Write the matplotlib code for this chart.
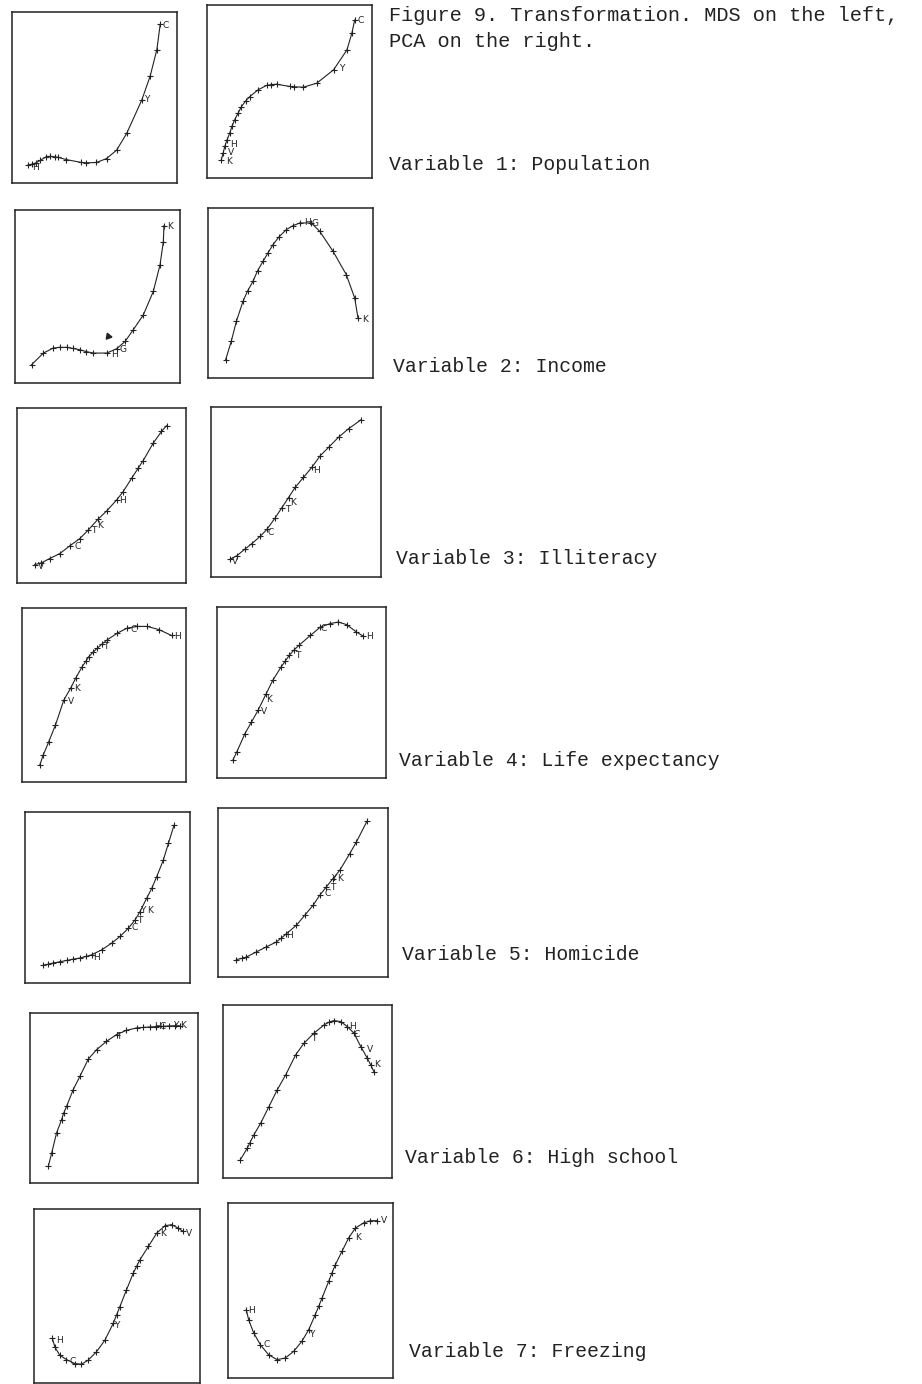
import matplotlib
matplotlib.use("Agg")
import matplotlib.pyplot as plt

# ---------------- data (panel fractions: x 0..1, y 0..1) ----------------
# Variable 1: Population
mds_pop_x = [0.096, 0.120, 0.146, 0.170, 0.207, 0.230, 0.258, 0.280, 0.329, 0.421, 0.450, 0.512, 0.573, 0.634, 0.695, 0.787, 0.837, 0.878, 0.898]
mds_pop_y = [0.104, 0.110, 0.118, 0.132, 0.153, 0.156, 0.153, 0.150, 0.137, 0.120, 0.118, 0.120, 0.143, 0.192, 0.290, 0.486, 0.624, 0.780, 0.927]
mds_pop_lab = [("C", 0.929, 0.922), ("Y", 0.817, 0.486), ("H", 0.14, 0.09)]
pca_pop_x = [0.087, 0.098, 0.108, 0.122, 0.138, 0.152, 0.168, 0.190, 0.209, 0.235, 0.260, 0.310, 0.361, 0.390, 0.422, 0.503, 0.530, 0.584, 0.665, 0.767, 0.848, 0.878, 0.895]
pca_pop_y = [0.106, 0.145, 0.183, 0.222, 0.260, 0.300, 0.337, 0.378, 0.413, 0.446, 0.471, 0.510, 0.535, 0.540, 0.542, 0.529, 0.527, 0.525, 0.548, 0.625, 0.740, 0.837, 0.913]
pca_pop_lab = [("C", 0.929, 0.910), ("Y", 0.817, 0.635), ("H", 0.160, 0.195), ("V", 0.148, 0.145), ("K", 0.135, 0.095)]

# Variable 2: Income
mds_inc_x = [0.101, 0.172, 0.232, 0.270, 0.313, 0.350, 0.394, 0.430, 0.475, 0.556, 0.616, 0.667, 0.717, 0.778, 0.838, 0.879, 0.899, 0.903]
mds_inc_y = [0.106, 0.173, 0.202, 0.206, 0.206, 0.200, 0.192, 0.182, 0.173, 0.173, 0.198, 0.240, 0.308, 0.394, 0.529, 0.683, 0.817, 0.910]
mds_inc_lab = [("K", 0.939, 0.904), ("H", 0.606, 0.163), ("G", 0.653, 0.192)]
mds_inc_stray = (0.566, 0.269)
pca_inc_x = [0.107, 0.141, 0.172, 0.212, 0.240, 0.273, 0.300, 0.333, 0.365, 0.394, 0.430, 0.475, 0.515, 0.556, 0.626, 0.677, 0.758, 0.838, 0.889, 0.909]
pca_inc_y = [0.108, 0.216, 0.333, 0.451, 0.512, 0.569, 0.630, 0.686, 0.738, 0.784, 0.830, 0.873, 0.896, 0.912, 0.912, 0.863, 0.745, 0.608, 0.471, 0.353]
pca_inc_lab = [("K", 0.949, 0.343), ("H", 0.606, 0.912), ("G", 0.646, 0.906)]

# Variable 3: Illiteracy
mds_ill_x = [0.105, 0.144, 0.194, 0.253, 0.312, 0.372, 0.421, 0.480, 0.530, 0.589, 0.628, 0.678, 0.717, 0.747, 0.806, 0.855, 0.885]
mds_ill_y = [0.105, 0.115, 0.140, 0.168, 0.212, 0.254, 0.302, 0.365, 0.411, 0.474, 0.522, 0.598, 0.656, 0.700, 0.799, 0.866, 0.899]
mds_ill_lab = [("H", 0.625, 0.474), ("K", 0.490, 0.331), ("T", 0.457, 0.302), ("C", 0.356, 0.207), ("V", 0.144, 0.092)]
pca_ill_x = [0.110, 0.153, 0.202, 0.241, 0.290, 0.329, 0.378, 0.417, 0.456, 0.495, 0.544, 0.593, 0.643, 0.692, 0.750, 0.809, 0.883]
pca_ill_y = [0.103, 0.126, 0.166, 0.197, 0.240, 0.280, 0.349, 0.408, 0.467, 0.527, 0.586, 0.645, 0.714, 0.763, 0.822, 0.872, 0.925]
pca_ill_lab = [("H", 0.622, 0.625), ("K", 0.481, 0.438), ("T", 0.450, 0.398), ("C", 0.348, 0.260), ("V", 0.143, 0.093)]

# Variable 4: Life expectancy
mds_life_x = [0.108, 0.129, 0.163, 0.204, 0.255, 0.296, 0.327, 0.367, 0.390, 0.408, 0.435, 0.459, 0.490, 0.520, 0.582, 0.643, 0.704, 0.765, 0.837, 0.912]
mds_life_y = [0.096, 0.154, 0.231, 0.327, 0.471, 0.538, 0.596, 0.663, 0.695, 0.721, 0.748, 0.769, 0.795, 0.817, 0.856, 0.885, 0.894, 0.894, 0.875, 0.842]
mds_life_lab = [("H", 0.949, 0.837), ("C", 0.680, 0.875), ("T", 0.510, 0.779), ("K", 0.337, 0.538), ("V", 0.296, 0.465)]
pca_life_x = [0.093, 0.117, 0.165, 0.204, 0.243, 0.291, 0.330, 0.379, 0.405, 0.427, 0.455, 0.485, 0.553, 0.612, 0.670, 0.718, 0.767, 0.825, 0.864]
pca_life_y = [0.103, 0.152, 0.259, 0.327, 0.396, 0.493, 0.571, 0.649, 0.685, 0.717, 0.748, 0.776, 0.834, 0.883, 0.903, 0.912, 0.897, 0.854, 0.830]
pca_life_lab = [("H", 0.903, 0.830), ("C", 0.631, 0.877), ("T", 0.476, 0.717), ("K", 0.311, 0.460), ("V", 0.278, 0.386)]

# Variable 5: Homicide
mds_hom_x = [0.107, 0.140, 0.172, 0.210, 0.253, 0.290, 0.333, 0.370, 0.404, 0.465, 0.525, 0.576, 0.626, 0.667, 0.697, 0.737, 0.768, 0.798, 0.838, 0.869, 0.903]
mds_hom_y = [0.103, 0.110, 0.117, 0.124, 0.132, 0.139, 0.146, 0.155, 0.165, 0.194, 0.233, 0.272, 0.320, 0.369, 0.417, 0.495, 0.553, 0.621, 0.718, 0.816, 0.922]
mds_hom_lab = [("H", 0.434, 0.151), ("C", 0.667, 0.326), ("T", 0.697, 0.363), ("Y", 0.712, 0.425), ("K", 0.755, 0.425)]
pca_hom_x = [0.108, 0.140, 0.167, 0.225, 0.284, 0.343, 0.372, 0.402, 0.461, 0.510, 0.559, 0.598, 0.637, 0.676, 0.716, 0.775, 0.814, 0.876]
pca_hom_y = [0.103, 0.110, 0.118, 0.148, 0.178, 0.207, 0.230, 0.256, 0.306, 0.365, 0.424, 0.483, 0.533, 0.582, 0.631, 0.730, 0.799, 0.921]
pca_hom_lab = [("H", 0.422, 0.247), ("C", 0.647, 0.493), ("T", 0.676, 0.530), ("Y", 0.680, 0.580), ("K", 0.720, 0.580)]

# Variable 6: High school
mds_hs_x = [0.109, 0.129, 0.158, 0.188, 0.200, 0.218, 0.257, 0.297, 0.347, 0.396, 0.455, 0.515, 0.574, 0.634, 0.673, 0.713, 0.752, 0.792, 0.830, 0.861, 0.891]
mds_hs_y = [0.098, 0.176, 0.294, 0.373, 0.410, 0.451, 0.549, 0.627, 0.729, 0.784, 0.833, 0.873, 0.898, 0.912, 0.915, 0.918, 0.920, 0.922, 0.924, 0.925, 0.925]
mds_hs_lab = [("K", 0.912, 0.925), ("Y", 0.866, 0.927), ("C", 0.788, 0.918), ("H", 0.760, 0.918), ("T", 0.529, 0.859)]
pca_hs_x = [0.103, 0.144, 0.160, 0.183, 0.223, 0.272, 0.321, 0.371, 0.430, 0.479, 0.538, 0.598, 0.630, 0.657, 0.696, 0.736, 0.775, 0.815, 0.854, 0.874, 0.893]
pca_hs_y = [0.106, 0.173, 0.205, 0.250, 0.317, 0.413, 0.510, 0.596, 0.712, 0.779, 0.837, 0.885, 0.902, 0.910, 0.904, 0.875, 0.837, 0.760, 0.692, 0.654, 0.615]
pca_hs_lab = [("K", 0.911, 0.658), ("V", 0.868, 0.744), ("C", 0.793, 0.827), ("H", 0.769, 0.875), ("T", 0.536, 0.804)]

# Variable 7: Freezing
mds_frz_x = [0.111, 0.125, 0.155, 0.195, 0.245, 0.286, 0.326, 0.376, 0.427, 0.477, 0.497, 0.517, 0.557, 0.598, 0.618, 0.638, 0.689, 0.740, 0.789, 0.829, 0.869, 0.899]
mds_frz_y = [0.256, 0.208, 0.160, 0.135, 0.112, 0.108, 0.131, 0.179, 0.246, 0.342, 0.390, 0.438, 0.535, 0.631, 0.670, 0.708, 0.785, 0.862, 0.904, 0.910, 0.890, 0.871]
mds_frz_lab = [("V", 0.936, 0.862), ("K", 0.779, 0.862), ("Y", 0.501, 0.333), ("C", 0.235, 0.121), ("H", 0.151, 0.246)]
pca_frz_x = [0.111, 0.125, 0.156, 0.196, 0.246, 0.297, 0.347, 0.398, 0.448, 0.489, 0.529, 0.550, 0.570, 0.610, 0.630, 0.651, 0.691, 0.731, 0.772, 0.822, 0.863, 0.903]
pca_frz_y = [0.390, 0.333, 0.257, 0.190, 0.133, 0.105, 0.114, 0.152, 0.210, 0.276, 0.362, 0.410, 0.457, 0.552, 0.600, 0.648, 0.724, 0.800, 0.857, 0.886, 0.899, 0.899]
pca_frz_lab = [("V", 0.943, 0.899), ("K", 0.788, 0.804), ("Y", 0.505, 0.251), ("C", 0.236, 0.190), ("H", 0.145, 0.387)]

variable_labels = ["Variable 1: Population", "Variable 2: Income", "Variable 3: Illiteracy",
                   "Variable 4: Life expectancy", "Variable 5: Homicide",
                   "Variable 6: High school", "Variable 7: Freezing"]
title_lines = ["Figure 9. Transformation. MDS on the left,", "PCA on the right."]

# ---------------- layout (pixel boxes: x0, y0, x1, y1 from top-left) ----------------
W, H = 922, 1384
panels = [
    ((12, 12, 177, 183), mds_pop_x, mds_pop_y, mds_pop_lab),
    ((207, 5, 372, 178), pca_pop_x, pca_pop_y, pca_pop_lab),
    ((15, 210, 180, 383), mds_inc_x, mds_inc_y, mds_inc_lab),
    ((208, 208, 373, 378), pca_inc_x, pca_inc_y, pca_inc_lab),
    ((17, 408, 186, 583), mds_ill_x, mds_ill_y, mds_ill_lab),
    ((211, 407, 381, 577), pca_ill_x, pca_ill_y, pca_ill_lab),
    ((22, 608, 186, 782), mds_life_x, mds_life_y, mds_life_lab),
    ((217, 607, 386, 778), pca_life_x, pca_life_y, pca_life_lab),
    ((25, 812, 190, 983), mds_hom_x, mds_hom_y, mds_hom_lab),
    ((218, 808, 388, 977), pca_hom_x, pca_hom_y, pca_hom_lab),
    ((30, 1013, 198, 1183), mds_hs_x, mds_hs_y, mds_hs_lab),
    ((223, 1005, 392, 1178), pca_hs_x, pca_hs_y, pca_hs_lab),
    ((34, 1209, 200, 1383), mds_frz_x, mds_frz_y, mds_frz_lab),
    ((228, 1203, 393, 1378), pca_frz_x, pca_frz_y, pca_frz_lab),
]
label_pos = [(389, 170), (393, 372), (396, 564), (399, 766), (402, 960), (405, 1163), (409, 1357)]

fig = plt.figure(figsize=(W / 100, H / 100), dpi=100)
fig.patch.set_facecolor("white")

axes = []
for (x0, y0, x1, y1), xs, ys, labs in panels:
    ax = fig.add_axes([x0 / W, 1 - y1 / H, (x1 - x0) / W, (y1 - y0) / H])
    ax.set_xlim(0, 1)
    ax.set_ylim(0, 1)
    ax.set_xticks([])
    ax.set_yticks([])
    for s in ax.spines.values():
        s.set_linewidth(1.1)
        s.set_color("#222222")
    ax.plot(xs, ys, color="#222222", lw=0.8, marker="+", ms=4.5, mew=0.8)
    for t, lx, ly in labs:
        ax.text(lx, ly, t, fontsize=6.5, family="DejaVu Sans", ha="center", va="center", color="#222222")
    axes.append(ax)

# stray arrow mark in Income MDS panel
axes[2].plot([mds_inc_stray[0]], [mds_inc_stray[1]], marker=(3, 0, 20), ms=5, color="#222222")

mono = "Liberation Mono"
fig.text(389 / W, 1 - 21 / H, title_lines[0], fontsize=14.6, family=mono, va="baseline", ha="left", color="#222222")
fig.text(389 / W, 1 - 47 / H, title_lines[1], fontsize=14.6, family=mono, va="baseline", ha="left", color="#222222")
for lab, (px, py) in zip(variable_labels, label_pos):
    fig.text(px / W, 1 - py / H, lab, fontsize=14.2, family=mono, va="baseline", ha="left", color="#222222")

fig.savefig("out.png", dpi=100)
